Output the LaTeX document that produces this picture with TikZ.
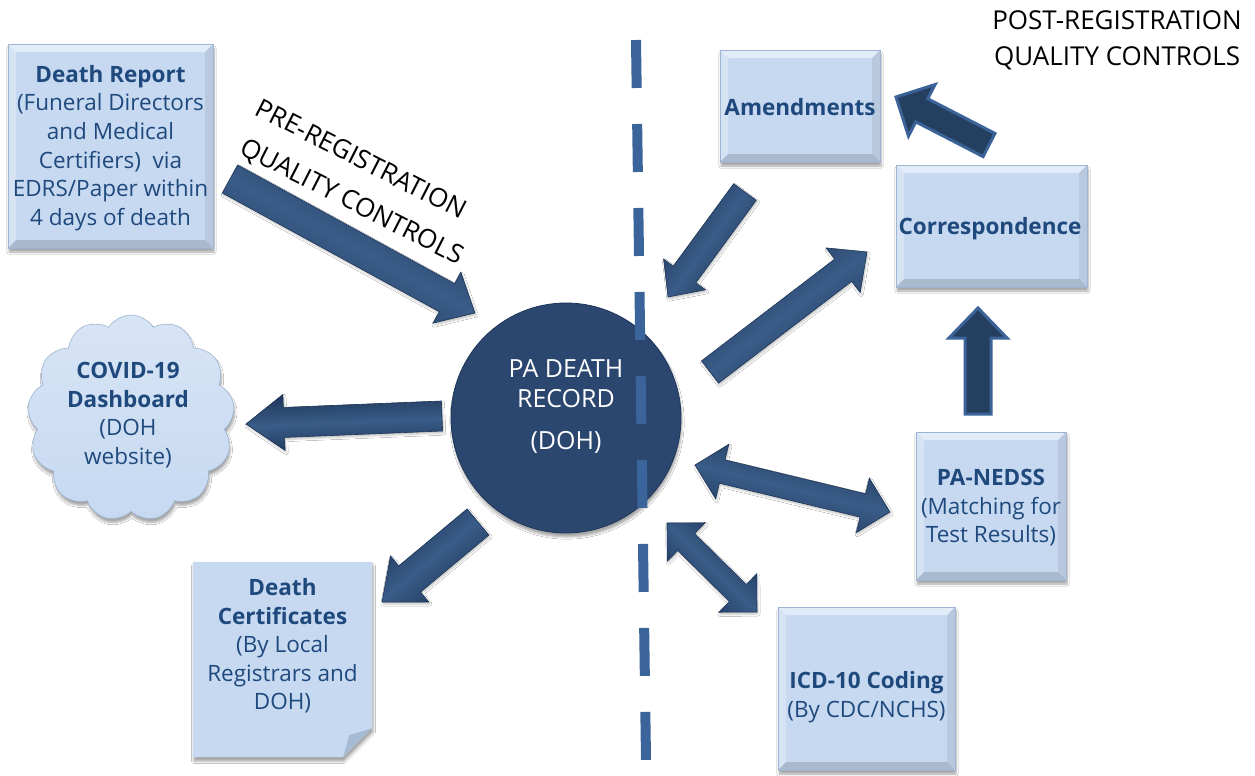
\documentclass[tikz,border=0pt]{standalone}
\usepackage{fontspec}
\setmainfont{Open Sans}
\usetikzlibrary{calc,shapes.symbols,shadows.blur}

\definecolor{boxfill}{HTML}{C6D9F1}
\definecolor{boxedge}{HTML}{9DB5D3}
\definecolor{txtblue}{HTML}{1F497D}
\definecolor{navy}{HTML}{2B4770}
\definecolor{navydark}{HTML}{1C3557}
\definecolor{navylight}{HTML}{3A5C88}
\definecolor{dashblue}{HTML}{3B649A}
\definecolor{flatfill}{HTML}{243F60}
\definecolor{flatedge}{HTML}{3B6397}
\definecolor{foldgray}{HTML}{A7BAD4}

\tikzset{
  softshadow/.style={blur shadow={shadow xshift=1pt, shadow yshift=-4pt,
      shadow blur steps=6, shadow opacity=35}},
  bevelbox/.style={rectangle, fill=boxfill, draw=boxedge, line width=.5pt,
    softshadow, inner sep=0pt, text=txtblue, align=center,
    font=\fontsize{22.5}{28.6}\selectfont,
    path picture={
      \coordinate (bvnw) at (path picture bounding box.north west);
      \coordinate (bvne) at (path picture bounding box.north east);
      \coordinate (bvsw) at (path picture bounding box.south west);
      \coordinate (bvse) at (path picture bounding box.south east);
      \fill[white,opacity=.5] (bvnw) -- (bvne) -- ($(bvne)+(-8pt,-8pt)$)
        -- ($(bvnw)+(8pt,-8pt)$) -- cycle;
      \fill[white,opacity=.28] (bvnw) -- ($(bvnw)+(8pt,-8pt)$)
        -- ($(bvsw)+(8pt,8pt)$) -- (bvsw) -- cycle;
      \fill[black,opacity=.07] (bvne) -- (bvse) -- ($(bvse)+(-8pt,8pt)$)
        -- ($(bvne)+(-8pt,-8pt)$) -- cycle;
      \fill[black,opacity=.14] (bvsw) -- (bvse) -- ($(bvse)+(-8pt,8pt)$)
        -- ($(bvsw)+(8pt,8pt)$) -- cycle;
    }},
  bluetext/.style={text=txtblue, align=center, font=\fontsize{22.5}{28.6}\selectfont},
  bigtext/.style={text=black, align=center, font=\fontsize{26}{36}\selectfont},
  % shaded arrow; the gradient runs across the shaft (\barang is its direction)
  arrow3d/.style={top color=navydark, bottom color=navydark, middle color=navylight,
    shading angle=\barang, draw=navydark, line width=.6pt, line join=miter,
    blur shadow={shadow xshift=1pt, shadow yshift=-2pt, shadow blur steps=4, shadow opacity=25}},
  arrowflat/.style={fill=flatfill, draw=flatedge, line width=3pt, line join=miter},
  dashline/.style={draw=dashblue, line width=10pt, dash pattern=on 48pt off 36pt},
}

% one-headed block arrow: style, tail, tip, half shaft, half head, head length
\newcommand\blockarrow[6]{%
  \path let \p1=($(#3)-(#2)$), \n1={atan2(\y1,\x1)} in \pgfextra{\xdef\barang{\n1}};
  \coordinate (ba-base) at ($(#3)!#6!(#2)$);
  \path[#1]
    ($(#2)!#4!90:(#3)$) -- ($(ba-base)!#4!90:(#3)$) -- ($(ba-base)!#5!90:(#3)$) -- (#3)
    -- ($(ba-base)!#5!-90:(#3)$) -- ($(ba-base)!#4!-90:(#3)$) -- ($(#2)!#4!-90:(#3)$) -- cycle;
}
% two-headed block arrow: style, end A, end B, half shaft, half head, head length
\newcommand\twowayarrow[6]{%
  \path let \p1=($(#3)-(#2)$), \n1={atan2(\y1,\x1)} in \pgfextra{\xdef\barang{\n1}};
  \coordinate (ba-a) at ($(#2)!#6!(#3)$);
  \coordinate (ba-b) at ($(#3)!#6!(#2)$);
  \path[#1]
    (#2) -- ($(ba-a)!#5!90:(#3)$) -- ($(ba-a)!#4!90:(#3)$) -- ($(ba-b)!#4!90:(#3)$)
    -- ($(ba-b)!#5!90:(#3)$) -- (#3) -- ($(ba-b)!#5!-90:(#3)$) -- ($(ba-b)!#4!-90:(#3)$)
    -- ($(ba-a)!#4!-90:(#3)$) -- ($(ba-a)!#5!-90:(#3)$) -- cycle;
}

\begin{document}
\begin{tikzpicture}[x=1pt,y=-1pt]
\fill[white] (0,0) rectangle (1255,776);
\useasboundingbox (0,0) rectangle (1255,776);

% ---------- boxes ----------
\node[bevelbox, minimum width=205pt, minimum height=204pt] (dr) at (110.5,146) {};
\node[bluetext] (drtext) at (110.5,148)
  {\textbf{Death Report}\\(Funeral Directors\\and Medical\\Certifiers)~~via\\EDRS/Paper within\\4 days of death};
\node[bevelbox, minimum width=160pt, minimum height=112pt] (amend) at (800,106) {};
\node[bluetext] (amendtext) at (800,107) {\textbf{Amendments}};
\node[bevelbox, minimum width=191pt, minimum height=122pt] (corr) at (991.5,226) {};
\node[bluetext] (corrtext) at (990,229) {\textbf{Correspondence}};
\node[bevelbox, minimum width=150pt, minimum height=148pt] (nedss) at (991,506) {};
\node[bluetext] (nedsstext) at (991,508) {\textbf{PA-NEDSS}\\(Matching for\\Test Results)};
\node[bevelbox, minimum width=177pt, minimum height=163pt] (icd) at (866.5,688.5) {};
\node[bluetext] (icdtext) at (866.5,697) {\textbf{ICD-10 Coding}\\(By CDC/NCHS)};

% ---------- note with folded corner ----------
\node[rectangle, minimum width=179pt, minimum height=195pt, inner sep=0pt] (cert) at (282.5,659.5) {};
\fill[boxfill, softshadow] (cert.north west) -- (cert.north east) -- ([yshift=29pt]cert.south east)
  -- ([xshift=-29pt]cert.south east) -- (cert.south west) -- cycle;
\fill[foldgray] ([yshift=29pt]cert.south east) -- ([xshift=-29pt]cert.south east)
  -- ([xshift=-23pt,yshift=22pt]cert.south east) -- cycle;
\node[bluetext] (certtext) at (282.5,646)
  {\textbf{Death}\\\textbf{Certificates}\\(By Local\\Registrars and\\DOH)};

% ---------- cloud ----------
\node[cloud, cloud puffs=13, cloud puff arc=115, aspect=1.0, minimum width=207pt,
  minimum height=206pt, inner sep=0pt, top color=boxfill!70!white, bottom color=boxfill,
  draw=boxedge, line width=.6pt, softshadow] (covid) at (131,418) {};
\node[bluetext] (covidtext) at (128,415)
  {\textbf{COVID-19}\\\textbf{Dashboard}\\(DOH\\website)};

% ---------- central record ----------
\node[circle, fill=navy, draw=navydark, line width=.8pt, minimum size=230pt, softshadow] (rec) at (566,418) {};
\node[text=white, align=center, font=\fontsize{25}{30}\selectfont] (rectext) at (566,407)
  {PA DEATH\\RECORD\\[12pt](DOH)};

% ---------- divider ----------
\coordinate (dtop) at (636,40);
\coordinate (dbot) at (646,760);
\draw[dashline] (dtop) -- (dbot);

% ---------- headings ----------
\node[bigtext, rotate=-27, font=\fontsize{26}{41.5}\selectfont] (pre) at (351,179)
  {PRE-REGISTRATION\\\hspace*{22pt}QUALITY CONTROLS};
\node[bigtext] (post) at (1117,40) {POST-REGISTRATION\\QUALITY CONTROLS};

% ---------- block arrows ----------
\coordinate (a1s) at (230,179);  \coordinate (a1e) at (475,313);
\coordinate (a2s) at (442,416);  \coordinate (a2e) at (246,424);
\coordinate (a3s) at (478,522);  \coordinate (a3e) at (382,602);
\coordinate (a4s) at (745,192);  \coordinate (a4e) at (668,297);
\coordinate (a5s) at (710,372);  \coordinate (a5e) at (867,252);
\coordinate (a6s) at (695,465);  \coordinate (a6e) at (890,512);
\coordinate (a7s) at (667,523);  \coordinate (a7e) at (757,612);
\coordinate (a8s) at (989,145);  \coordinate (a8e) at (896,97);
\coordinate (a9s) at (978,414);  \coordinate (a9e) at (978,308);

\blockarrow{arrow3d}{a1s}{a1e}{16pt}{29pt}{32pt}
\blockarrow{arrow3d}{a2s}{a2e}{15pt}{28pt}{38pt}
\blockarrow{arrow3d}{a3s}{a3e}{17pt}{30pt}{36pt}
\blockarrow{arrow3d}{a4s}{a4e}{14pt}{26pt}{28pt}
\blockarrow{arrow3d}{a5s}{a5e}{14pt}{28pt}{30pt}
\twowayarrow{arrow3d}{a6s}{a6e}{12pt}{28pt}{28pt}
\twowayarrow{arrow3d}{a7s}{a7e}{12pt}{27pt}{27pt}
\blockarrow{arrowflat}{a8s}{a8e}{13pt}{29pt}{29pt}
\blockarrow{arrowflat}{a9s}{a9e}{13pt}{29pt}{30pt}
\end{tikzpicture}
\end{document}
